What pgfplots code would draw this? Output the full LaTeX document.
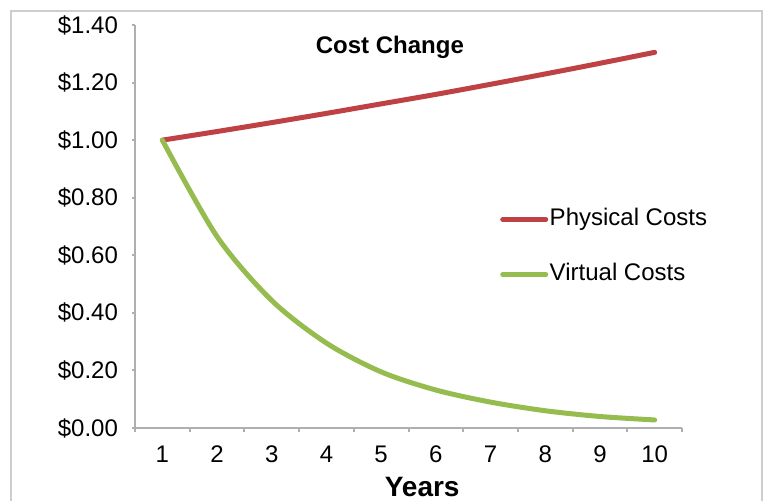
\documentclass[border=0pt]{standalone}
\usepackage{fontspec}
\setmainfont{Liberation Sans}
\usepackage{pgfplots}
\pgfplotsset{compat=1.18}
\definecolor{phys}{RGB}{190,65,68}
\definecolor{virt}{RGB}{150,188,80}
\definecolor{axgray}{RGB}{175,175,175}
\definecolor{framegray}{RGB}{205,205,205}
\begin{document}
\begin{tikzpicture}
\useasboundingbox (0,0) rectangle (382pt,250pt);
\draw[framegray, line width=1pt] (5.5pt,-2pt) -- (5.5pt,244.5pt) -- (381pt,244.5pt) -- (381pt,-2pt);
\begin{axis}[
  at={(67.5pt,36pt)}, anchor=south west,
  scale only axis, width=273.5pt, height=201.5pt,
  xmin=0.5, xmax=10.5, ymin=0, ymax=1.4,
  axis x line*=bottom, axis y line*=left,
  axis line style={axgray, line width=1pt},
  tick align=outside,
  xtick={1,2,3,4,5,6,7,8,9,10},
  major x tick style={draw=none},
  minor xtick={0.5,1.5,2.5,3.5,4.5,5.5,6.5,7.5,8.5,9.5,10.5},
  ytick={0,0.2,0.4,0.6,0.8,1.0,1.2,1.4},
  yticklabels={\$0.00,\$0.20,\$0.40,\$0.60,\$0.80,\$1.00,\$1.20,\$1.40},
  major tick length=1.5pt, minor tick length=2pt,
  every tick/.style={axgray, line width=1pt},
  ticklabel style={font=\fontsize{12}{14}\selectfont},
  /pgf/number format/assume math mode=true,
  yticklabel style={xshift=-3.5pt},
  xticklabel style={yshift=-4pt},
  title={Cost Change},
  title style={at={(0.466,0.915)}, anchor=center, font=\bfseries\fontsize{12}{14}\selectfont},
  xlabel={Years},
  xlabel style={at={(axis description cs:0.525,-0.170)}, anchor=base, font=\bfseries\fontsize{14}{16}\selectfont},
  legend style={at={(0.656,0.568)}, anchor=north west, draw=none, fill=none,
    font=\fontsize{12}{14}\selectfont, row sep=11.5pt,
    nodes={inner xsep=0.75pt, inner ysep=2pt, text height=9pt, text depth=3pt}},
  legend cell align=left,
  legend image code/.code={\draw[#1] (0pt,0pt) -- (21.5pt,0pt);},
]
\addplot[phys, line width=2.5pt, smooth, line cap=round] coordinates {
(1,1.000) (2,1.030) (3,1.061) (4,1.093) (5,1.126) (6,1.159) (7,1.194) (8,1.230) (9,1.267) (10,1.305)};
\addlegendentry{Physical Costs}
\addplot[virt, line width=2.5pt, smooth, line cap=round] coordinates {
(1,1.00) (2,0.665) (3,0.443) (4,0.295) (5,0.195) (6,0.132) (7,0.090) (8,0.060) (9,0.040) (10,0.028)};
\addlegendentry{Virtual Costs}
\end{axis}
\end{tikzpicture}
\end{document}
